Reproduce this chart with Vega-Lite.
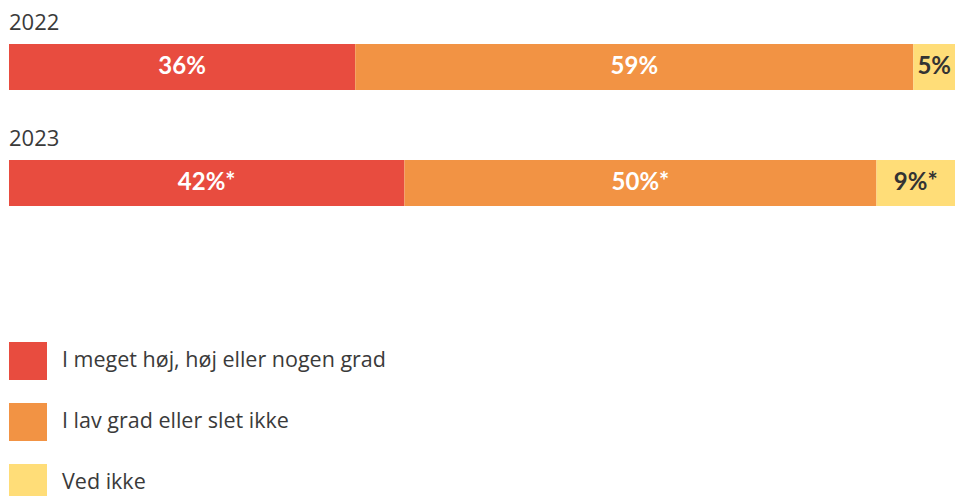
{
  "$schema": "https://vega.github.io/schema/vega-lite/v6.json",
  "width": 946,
  "height": 496,
  "autosize": {"type": "none"},
  "padding": {"left": 9, "top": 0, "right": 0, "bottom": 0},
  "background": "white",
  "config": {"view": {"stroke": null}, "font": "Lato"},
  "data": {
    "values": [
      {"year": "2022", "cat": "I meget høj, høj eller nogen grad", "rank": 1, "value": 36.6, "label": "36%"},
      {"year": "2022", "cat": "I lav grad eller slet ikke", "rank": 2, "value": 59.0, "label": "59%"},
      {"year": "2022", "cat": "Ved ikke", "rank": 3, "value": 4.4, "label": "5%"},
      {"year": "2023", "cat": "I meget høj, høj eller nogen grad", "rank": 1, "value": 41.8, "label": "42%*"},
      {"year": "2023", "cat": "I lav grad eller slet ikke", "rank": 2, "value": 49.9, "label": "50%*"},
      {"year": "2023", "cat": "Ved ikke", "rank": 3, "value": 8.3, "label": "9%*"}
    ]
  },
  "transform": [
    {"stack": "value", "groupby": ["year"], "sort": [{"field": "rank", "order": "ascending"}], "as": ["v0", "v1"]},
    {"calculate": "(datum.v0 + datum.v1) / 2", "as": "mid"}
  ],
  "encoding": {
    "y": {"field": "year", "type": "nominal", "scale": {"paddingInner": 0.6034, "paddingOuter": 0.379, "range": [0, 250]}, "axis": null}
  },
  "layer": [
    {
      "mark": {"type": "bar"},
      "encoding": {
        "x": {"field": "v0", "type": "quantitative", "scale": {"domain": [0, 100], "nice": false, "zero": true}, "axis": null},
        "x2": {"field": "v1"},
        "color": {
          "field": "cat",
          "type": "nominal",
          "scale": {
            "domain": ["I meget høj, høj eller nogen grad", "I lav grad eller slet ikke", "Ved ikke"],
            "range": ["#E84C3F", "#F29344", "#FFDD78"]
          },
          "legend": {
            "orient": "none",
            "legendX": 0,
            "legendY": 342,
            "title": null,
            "symbolType": "square",
            "symbolSize": 1444,
            "symbolStrokeWidth": 0,
            "symbolOpacity": 1,
            "labelFontSize": 21.5,
            "labelColor": "#3a3a3a",
            "labelFont": "Open Sans",
            "labelOffset": 15,
            "rowPadding": 23,
            "padding": 0,
            "labelLimit": 600
          }
        }
      }
    },
    {
      "mark": {"type": "text", "fontWeight": "bold", "fontSize": 24, "baseline": "middle", "align": "center"},
      "encoding": {
        "x": {"field": "mid", "type": "quantitative"},
        "text": {"field": "label"},
        "color": {"condition": {"test": "datum.cat === 'Ved ikke'", "value": "#333333"}, "value": "white"}
      }
    },
    {
      "transform": [{"filter": "datum.rank === 1"}],
      "mark": {"type": "text", "align": "left", "baseline": "alphabetic", "fontSize": 22, "font": "Open Sans", "dy": -14, "color": "#3a3a3a"},
      "encoding": {
        "x": {"datum": 0, "type": "quantitative"},
        "y": {"field": "year", "type": "nominal", "bandPosition": 0},
        "text": {"field": "year"}
      }
    }
  ]
}
